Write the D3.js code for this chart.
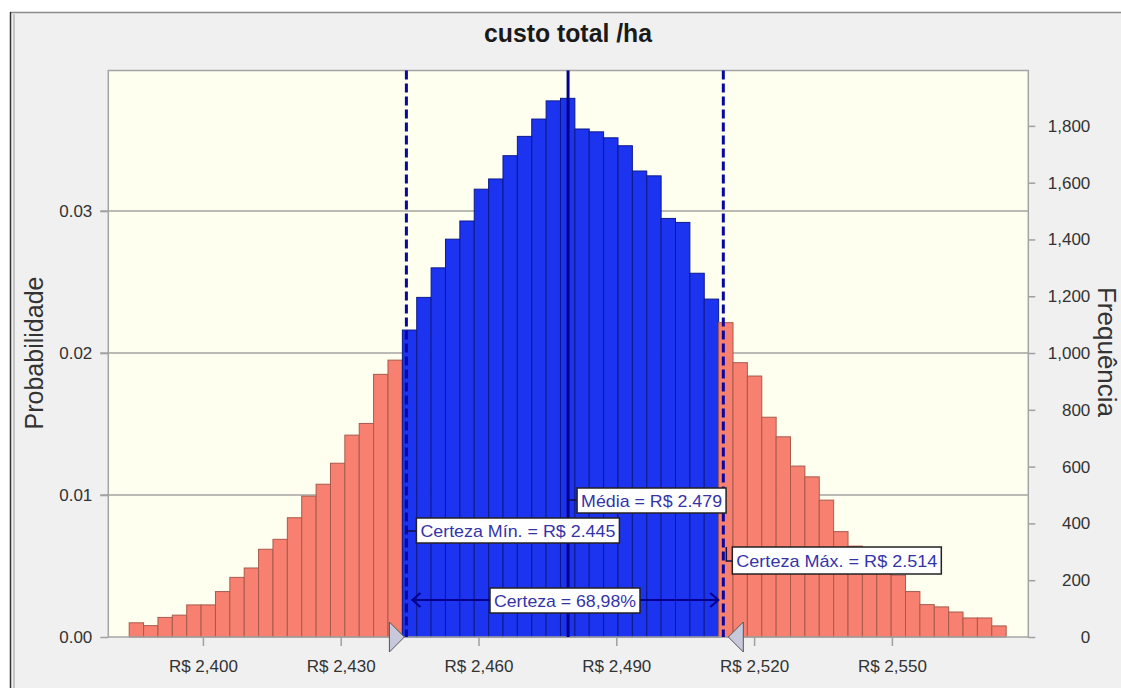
<!DOCTYPE html>
<html>
<head>
<meta charset="utf-8">
<script src="https://cdn.jsdelivr.net/npm/d3@7"></script>
<style>
  html, body { margin: 0; padding: 0; background: #ffffff; }
  svg { display: block; font-family: "Liberation Sans", Arial, sans-serif; }
</style>
</head>
<body>
<svg id="chart" width="1121" height="688"></svg>
<script>
// ---------------- data ----------------
const title = "custo total /ha";
const yLeftLabel = "Probabilidade";
const yRightLabel = "Frequência";
const trials = 50000;
const binStart = 2383.95;
const binWidth = 3.13;
const frequencies = [
  50, 40, 69, 77, 113, 113, 160, 210, 243, 309, 344, 420, 496, 538, 612, 711, 752, 925, 975,
  1081, 1196, 1300, 1401, 1465, 1577, 1613, 1695, 1763, 1824, 1888, 1897, 1789, 1779, 1758, 1730, 1641, 1624, 1474, 1460, 1281, 1190,
  1107, 966, 919, 774, 705, 602, 564, 482, 371, 320, 285, 250, 218, 160, 114, 106, 88, 67, 67, 39
];
const xTickValues = [2400, 2430, 2460, 2490, 2520, 2550];
const xTickLabels = ["R$ 2,400", "R$ 2,430", "R$ 2,460", "R$ 2,490", "R$ 2,520", "R$ 2,550"];
const probTicks = [0, 0.01, 0.02, 0.03];
const freqTicks = [0, 200, 400, 600, 800, 1000, 1200, 1400, 1600, 1800];
const certMin = 2444.3, certMax = 2513.3, meanValue = 2479.5;
const labelMean = "Média = R$ 2.479";
const labelMin = "Certeza Mín. = R$ 2.445";
const labelMax = "Certeza Máx. = R$ 2.514";
const labelCert = "Certeza = 68,98%";

// ---------------- layout ----------------
const W = 1121, H = 688;
const plot = { left: 108.3, right: 1028.3, top: 70.5, bottom: 637 };
const svg = d3.select("#chart");

// frame / background
svg.append("rect").attr("x", 10).attr("y", 12).attr("width", W - 10).attr("height", H - 12).attr("fill", "#f0f0f0");
svg.append("line").attr("x1", 10).attr("x2", W).attr("y1", 12.5).attr("y2", 12.5).attr("stroke", "#8a8a8a").attr("stroke-width", 1.5);
svg.append("line").attr("x1", 10.5).attr("x2", 10.5).attr("y1", 12).attr("y2", H).attr("stroke", "#333").attr("stroke-width", 1.5);
svg.append("line").attr("x1", 14).attr("x2", 14).attr("y1", 14).attr("y2", H).attr("stroke", "#9a9a9a").attr("stroke-width", 1);

// scales
const x = d3.scaleLinear().domain([2379.4, 2579.7]).range([plot.left, plot.right]);
const yMax = 0.0399;
const yP = d3.scaleLinear().domain([0, yMax]).range([plot.bottom, plot.top]);
const yF = d3.scaleLinear().domain([0, yMax * trials]).range([plot.bottom, plot.top]);

// plot area
svg.append("rect").attr("x", plot.left).attr("y", plot.top)
  .attr("width", plot.right - plot.left).attr("height", plot.bottom - plot.top)
  .attr("fill", "#fffff0");

// gridlines (extend left as tick marks)
svg.append("g").selectAll("line").data(probTicks.filter(d => d > 0)).join("line")
  .attr("x1", plot.left - 8).attr("x2", plot.right)
  .attr("y1", d => yP(d)).attr("y2", d => yP(d))
  .attr("stroke", "#a4a4a0").attr("stroke-width", 1.5);

// bars
const bins = frequencies.map((f, i) => {
  const x0 = binStart + i * binWidth, x1 = x0 + binWidth;
  const c = (x0 + x1) / 2;
  return { x0, x1, f, p: f / trials, inside: c >= certMin && c <= certMax };
});
svg.append("g").selectAll("rect").data(bins).join("rect")
  .attr("x", d => x(d.x0)).attr("width", d => x(d.x1) - x(d.x0))
  .attr("y", d => yP(d.p)).attr("height", d => plot.bottom - yP(d.p))
  .attr("fill", d => d.inside ? "#1c33ef" : "#f88070")
  .attr("stroke", d => d.inside ? "#0c1a8c" : "#a85a4c")
  .attr("stroke-width", 1);

// plot border
svg.append("rect").attr("x", plot.left).attr("y", plot.top)
  .attr("width", plot.right - plot.left).attr("height", plot.bottom - plot.top)
  .attr("fill", "none").attr("stroke", "#a4a4a4").attr("stroke-width", 1.5);

// certainty and mean lines
[certMin, certMax].forEach(v => {
  svg.append("line").attr("x1", x(v)).attr("x2", x(v)).attr("y1", plot.top).attr("y2", plot.bottom)
    .attr("stroke", "#0808a0").attr("stroke-width", 3).attr("stroke-dasharray", "9,4");
});
svg.append("line").attr("x1", x(meanValue)).attr("x2", x(meanValue)).attr("y1", plot.top).attr("y2", plot.bottom)
  .attr("stroke", "#00008c").attr("stroke-width", 3);

// axes
const axisColor = "#a0a0a0";
const tickText = "#333333";
const fs = "17px";

const xAxis = svg.append("g").attr("transform", `translate(0,${plot.bottom})`)
  .call(d3.axisBottom(x).tickValues(xTickValues).tickFormat((d, i) => xTickLabels[i]).tickSize(9).tickPadding(14));
const yAxisL = svg.append("g").attr("transform", `translate(${plot.left},0)`)
  .call(d3.axisLeft(yP).tickValues(probTicks).tickFormat(d3.format(".2f")).tickSize(8).tickPadding(8));
const yAxisR = svg.append("g").attr("transform", `translate(${plot.right},0)`)
  .call(d3.axisRight(yF).tickValues(freqTicks).tickFormat(d3.format(",")).tickSize(7).tickPadding(0));
[xAxis, yAxisL, yAxisR].forEach(g => {
  g.select(".domain").remove();
  g.selectAll(".tick line").attr("stroke", axisColor).attr("stroke-width", 1.5);
  g.selectAll(".tick text").attr("fill", tickText).style("font-size", fs)
    .style("font-family", "'Liberation Sans', Arial, sans-serif");
});
yAxisR.selectAll(".tick text").attr("text-anchor", "end").attr("x", 62);

// titles
svg.append("text").attr("x", 568).attr("y", 42).attr("text-anchor", "middle")
  .attr("font-size", 25).attr("font-weight", "bold").attr("fill", "#1a1a1a")
  .attr("textLength", 168).attr("lengthAdjust", "spacingAndGlyphs").text(title);
svg.append("text").attr("transform", "translate(43,353) rotate(-90)").attr("text-anchor", "middle")
  .attr("font-size", 25).attr("fill", "#333").text(yLeftLabel);
svg.append("text").attr("transform", "translate(1098,352) rotate(90)").attr("text-anchor", "middle")
  .attr("font-size", 26).attr("fill", "#333").text(yRightLabel);

// triangles (certainty grabbers)
const triL = [[x(certMin) - 17, plot.bottom - 15], [x(certMin) - 2, plot.bottom], [x(certMin) - 17, plot.bottom + 15]];
const triR = [[x(certMax) + 20, plot.bottom - 15], [x(certMax) + 5, plot.bottom], [x(certMax) + 20, plot.bottom + 15]];
[triL, triR].forEach(t => {
  svg.append("path").attr("d", d3.line()(t) + "Z").attr("fill", "#c8c8dc").attr("stroke", "#555").attr("stroke-width", 1);
});

// annotations
const annoColor = "#3434a8";
function labelBox(text, bx, by, w, h) {
  const g = svg.append("g");
  g.append("rect").attr("x", bx).attr("y", by).attr("width", w).attr("height", h)
    .attr("fill", "#ffffff").attr("stroke", "#222").attr("stroke-width", 1.5);
  g.append("text").attr("x", bx + w / 2).attr("y", by + h / 2 + 6).attr("text-anchor", "middle")
    .attr("font-size", 17).attr("fill", annoColor)
    .attr("textLength", w - 8).attr("lengthAdjust", "spacingAndGlyphs").text(text);
}
const connColor = "#101040";
// mean
svg.append("line").attr("x1", x(meanValue)).attr("x2", x(meanValue) + 10).attr("y1", 500).attr("y2", 500).attr("stroke", connColor).attr("stroke-width", 1.5);
labelBox(labelMean, x(meanValue) + 9, 488, 149, 25);
// min
svg.append("line").attr("x1", x(certMin)).attr("x2", x(certMin) + 10).attr("y1", 531).attr("y2", 531).attr("stroke", connColor).attr("stroke-width", 1.5);
labelBox(labelMin, x(certMin) + 10, 518, 203, 25);
// max
svg.append("path").attr("d", `M${x(certMax) + 3},547 V561 H${x(certMax) + 10}`).attr("fill", "none").attr("stroke", connColor).attr("stroke-width", 1.5);
labelBox(labelMax, x(certMax) + 9, 547, 209, 27);
// certainty arrow
const ay = 600, ax0 = x(certMin) + 6, ax1 = x(certMax) - 5;
svg.append("line").attr("x1", ax0).attr("x2", ax1).attr("y1", ay).attr("y2", ay).attr("stroke", "#00008c").attr("stroke-width", 2);
svg.append("path").attr("d", `M${ax0 + 8},${ay - 7} L${ax0},${ay} L${ax0 + 8},${ay + 7}`).attr("fill", "none").attr("stroke", "#00008c").attr("stroke-width", 2);
svg.append("path").attr("d", `M${ax1 - 8},${ay - 7} L${ax1},${ay} L${ax1 - 8},${ay + 7}`).attr("fill", "none").attr("stroke", "#00008c").attr("stroke-width", 2);
labelBox(labelCert, 490, 588, 150, 25);
</script>
</body>
</html>
